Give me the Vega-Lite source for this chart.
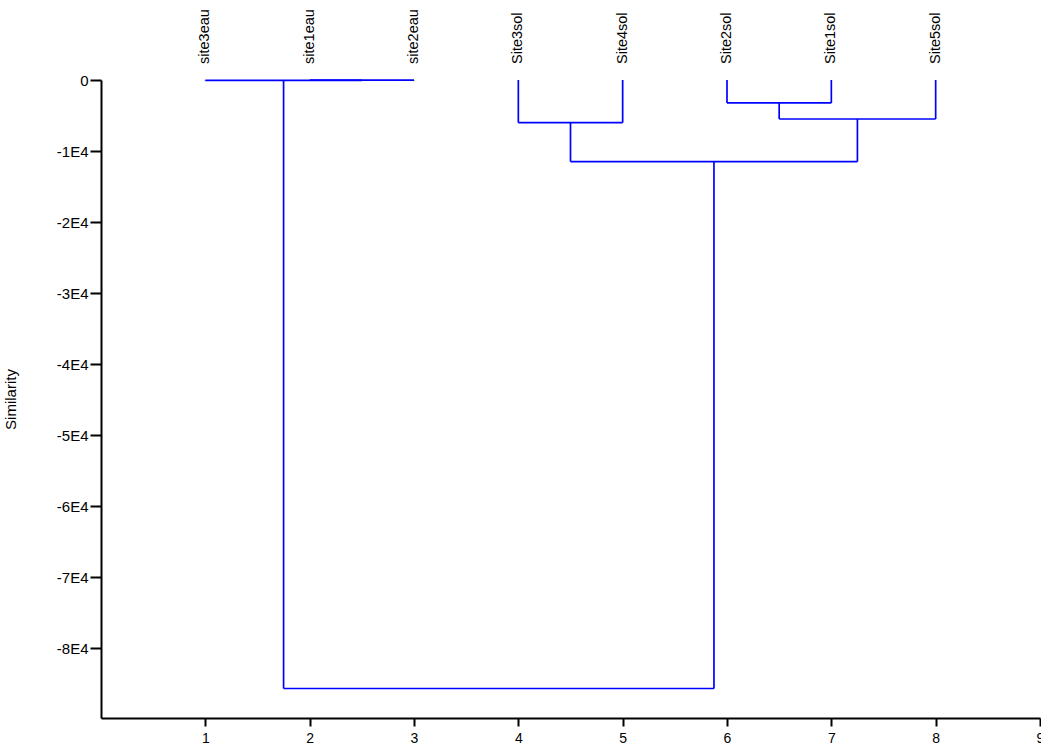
{
  "$schema": "https://vega.github.io/schema/vega-lite/v6.json",
  "width": 939,
  "height": 638,
  "autosize": {"type": "none"},
  "padding": {"left": 101, "top": 80, "right": 1, "bottom": 31},
  "background": "white",
  "config": {
    "view": {"stroke": null},
    "font": "Liberation Sans",
    "axis": {"grid": false, "domainColor": "black", "tickColor": "black", "labelColor": "black", "titleColor": "black", "labelFont": "Liberation Sans", "titleFont": "Liberation Sans", "domainWidth": 2, "tickWidth": 2}
  },
  "datasets": {
    "segments": [
      {"x": 2, "y": 0, "x2": 2, "y2": -20},
      {"x": 3, "y": 0, "x2": 3, "y2": -20},
      {"x": 2, "y": -20, "x2": 3, "y2": -20},
      {"x": 1, "y": 0, "x2": 1, "y2": -40},
      {"x": 2.5, "y": -20, "x2": 2.5, "y2": -40},
      {"x": 1, "y": -40, "x2": 2.5, "y2": -40},
      {"x": 4, "y": 0, "x2": 4, "y2": -6000},
      {"x": 5, "y": 0, "x2": 5, "y2": -6000},
      {"x": 4, "y": -6000, "x2": 5, "y2": -6000},
      {"x": 6, "y": 0, "x2": 6, "y2": -3230},
      {"x": 7, "y": 0, "x2": 7, "y2": -3230},
      {"x": 6, "y": -3230, "x2": 7, "y2": -3230},
      {"x": 6.5, "y": -3230, "x2": 6.5, "y2": -5490},
      {"x": 8, "y": 0, "x2": 8, "y2": -5490},
      {"x": 6.5, "y": -5490, "x2": 8, "y2": -5490},
      {"x": 4.5, "y": -6000, "x2": 4.5, "y2": -11490},
      {"x": 7.25, "y": -5490, "x2": 7.25, "y2": -11490},
      {"x": 4.5, "y": -11490, "x2": 7.25, "y2": -11490},
      {"x": 1.75, "y": -40, "x2": 1.75, "y2": -85650},
      {"x": 5.875, "y": -11490, "x2": 5.875, "y2": -85650},
      {"x": 1.75, "y": -85650, "x2": 5.875, "y2": -85650}
    ],
    "leaves": [
      {"pos": 1, "name": "site3eau", "h": 0},
      {"pos": 2, "name": "site1eau", "h": 0},
      {"pos": 3, "name": "site2eau", "h": 0},
      {"pos": 4, "name": "Site3sol", "h": 0},
      {"pos": 5, "name": "Site4sol", "h": 0},
      {"pos": 6, "name": "Site2sol", "h": 0},
      {"pos": 7, "name": "Site1sol", "h": 0},
      {"pos": 8, "name": "Site5sol", "h": 0}
    ]
  },
  "layer": [
    {
      "data": {"name": "segments"},
      "mark": {"type": "rule", "color": "#0000FF", "strokeWidth": 1.7, "clip": false},
      "encoding": {
        "x": {"field": "x", "type": "quantitative", "scale": {"domain": [0, 9], "nice": false, "zero": false},
          "axis": {"values": [1, 2, 3, 4, 5, 6, 7, 8, 9], "format": "d", "title": null, "tickSize": 8, "labelPadding": 5, "labelFontSize": 14, "labelFlush": false, "labelOverlap": false}},
        "x2": {"field": "x2"},
        "y": {"field": "y", "type": "quantitative", "scale": {"domain": [-89800, 0], "nice": false, "zero": false},
          "axis": {"values": [0, -10000, -20000, -30000, -40000, -50000, -60000, -70000, -80000],
            "labelExpr": "datum.value == 0 ? '0' : '-' + format(abs(datum.value) / 10000, 'd') + 'E4'",
            "title": "Similarity", "titleFontSize": 15, "titleFontWeight": "normal", "titleX": -83,
            "tickSize": 11, "labelPadding": 2, "labelFontSize": 15, "labelFlush": false, "labelOverlap": false}},
        "y2": {"field": "y2"}
      }
    },
    {
      "data": {"name": "leaves"},
      "mark": {"type": "text", "angle": 270, "align": "left", "baseline": "middle", "dx": 16, "fontSize": 14.5, "font": "Liberation Sans", "color": "black", "clip": false},
      "encoding": {
        "x": {"field": "pos", "type": "quantitative"},
        "y": {"field": "h", "type": "quantitative"},
        "text": {"field": "name"}
      }
    }
  ]
}
